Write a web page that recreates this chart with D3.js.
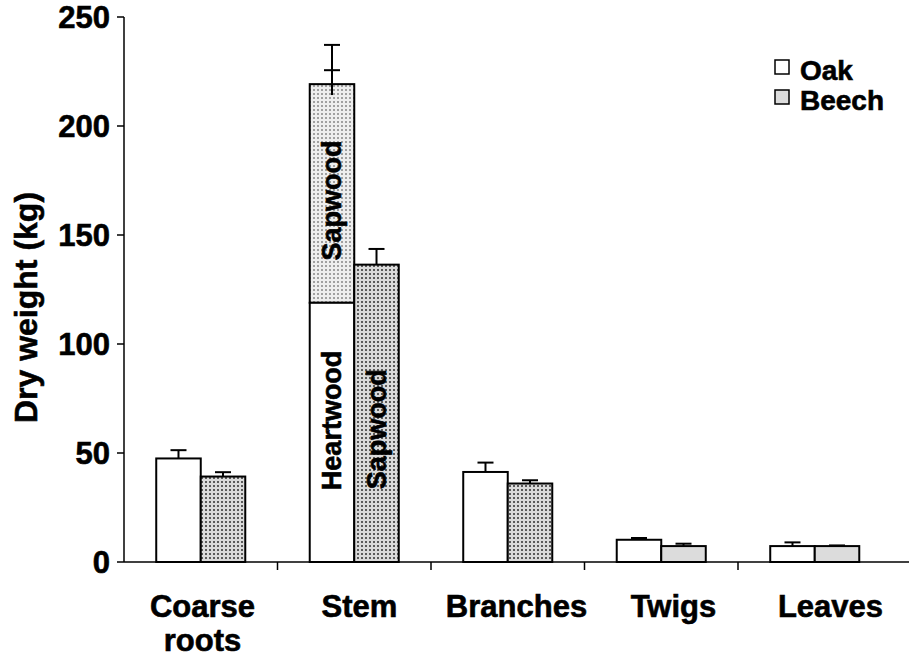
<!DOCTYPE html>
<html><head><meta charset="utf-8">
<script src="https://cdn.jsdelivr.net/npm/d3@7"></script>
<style>
body{margin:0;background:#fff;}
text{font-family:"Liberation Sans",Arial,sans-serif;font-weight:bold;fill:#000;stroke:#000;stroke-width:0.6px;}
</style></head>
<body><svg id="c" width="909" height="664"></svg>
<script>
const categories = ["Coarse roots","Stem","Branches","Twigs","Leaves"];
const oak = [47.5, 219.2, 41.3, 10.2, 7.3];
const oakErr = [3.8, 18.0, 4.3, 0.8, 1.7];
const beech = [39.2, 136.4, 36.0, 7.3, 7.3];
const beechErr = [2.0, 7.2, 1.5, 1.1, 0.3];
const oakStemHeartwood = 118.9;
const oakStemSapErr = 6.4;   // inner cap on stem error bar
const oakStemLowErr = 5.0;   // error line extends into bar
const yTicks = [0, 50, 100, 150, 200, 250];
const legendItems = ["Oak", "Beech"];

const svg = d3.select("#c");
const defs = svg.append("defs");
const p1 = defs.append("pattern").attr("id","beechPat").attr("width",4).attr("height",4).attr("patternUnits","userSpaceOnUse");
p1.append("rect").attr("width",4).attr("height",4).attr("fill","#dadada");
p1.append("rect").attr("x",1).attr("y",1).attr("width",2).attr("height",2).attr("fill","#5a5a5a");
const p2 = defs.append("pattern").attr("id","sapPat").attr("width",4).attr("height",4).attr("patternUnits","userSpaceOnUse");
p2.append("rect").attr("width",4).attr("height",4).attr("fill","#eeeeee");
p2.append("rect").attr("x",1).attr("y",1).attr("width",2).attr("height",2).attr("fill","#a0a0a0");

const y = d3.scaleLinear().domain([0,250]).range([562,17]);
const x = d3.scaleBand().domain(categories).range([124,891.5]).padding(0);
const xl = d3.scalePoint().domain(categories).range([124,909]).padding(0.5);
const bw = x.bandwidth()*0.29;

// bars
const g = svg.append("g");
categories.forEach((c,i)=>{
  const cx = x(c)+x.bandwidth()/2;
  if (c==="Stem"){
    g.append("rect").attr("x",cx-bw).attr("y",y(oak[i])).attr("width",bw).attr("height",y(oakStemHeartwood)-y(oak[i]))
      .attr("fill","url(#sapPat)").attr("stroke","#000").attr("stroke-width",2);
    g.append("rect").attr("x",cx-bw).attr("y",y(oakStemHeartwood)).attr("width",bw).attr("height",y(0)-y(oakStemHeartwood))
      .attr("fill","#fff").attr("stroke","#000").attr("stroke-width",2);
  } else {
    g.append("rect").attr("x",cx-bw).attr("y",y(oak[i])).attr("width",bw).attr("height",y(0)-y(oak[i]))
      .attr("fill","#fff").attr("stroke","#000").attr("stroke-width",2);
  }
  g.append("rect").attr("x",cx).attr("y",y(beech[i])).attr("width",bw).attr("height",y(0)-y(beech[i]))
    .attr("fill", beech[i] < 20 ? "#dcdcdc" : "url(#beechPat)").attr("stroke","#000").attr("stroke-width",2);
});

// error bars
function errBar(xc, top, low, caps){
  g.append("line").attr("x1",xc).attr("x2",xc).attr("y1",y(low)).attr("y2",y(top)).attr("stroke","#000").attr("stroke-width",2);
  caps.forEach(v=>g.append("line").attr("x1",xc-8).attr("x2",xc+8).attr("y1",y(v)).attr("y2",y(v)).attr("stroke","#000").attr("stroke-width",2));
}
categories.forEach((c,i)=>{
  const cx = x(c)+x.bandwidth()/2;
  if (c==="Stem"){
    errBar(cx-bw/2, oak[i]+oakErr[i], oak[i]-oakStemLowErr, [oak[i]+oakErr[i], oak[i]+oakStemSapErr]);
  } else {
    errBar(cx-bw/2, oak[i]+oakErr[i], oak[i], [oak[i]+oakErr[i]]);
  }
  errBar(cx+bw/2, beech[i]+beechErr[i], beech[i], [beech[i]+beechErr[i]]);
});

// bar labels
const sx = x("Stem")+x.bandwidth()/2;
function vlabel(xc, yc, t){
  svg.append("text").attr("transform",`translate(${xc},${yc}) rotate(-90)`).attr("text-anchor","middle")
    .attr("dy","0.35em").style("font-size","27px").text(t);
}
vlabel(sx-bw/2, y((oak[1]+oakStemHeartwood)/2)+7, "Sapwood");
vlabel(sx-bw/2, y(oakStemHeartwood/2)-12, "Heartwood");
vlabel(sx+bw/2, y(beech[1]/2)+16, "Sapwood");

// y axis
svg.append("line").attr("x1",124).attr("x2",124).attr("y1",y(250)).attr("y2",y(0)).attr("stroke","#000").attr("stroke-width",1.5);
yTicks.forEach(t=>{
  svg.append("line").attr("x1",117).attr("x2",124).attr("y1",y(t)).attr("y2",y(t)).attr("stroke","#000").attr("stroke-width",1.5);
  svg.append("text").attr("x",110).attr("y",y(t)).attr("dy","0.36em").attr("text-anchor","end").style("font-size","31px").text(t);
});
svg.append("text").attr("transform",`translate(37,${(y(0)+y(250))/2+18}) rotate(-90)`).attr("text-anchor","middle")
  .style("font-size","32px").text("Dry weight (kg)");

// x axis
svg.append("line").attr("x1",124).attr("x2",909).attr("y1",y(0)).attr("y2",y(0)).attr("stroke","#000").attr("stroke-width",1.5);
categories.slice(1).forEach(c=>{
  svg.append("line").attr("x1",x(c)).attr("x2",x(c)).attr("y1",y(0)).attr("y2",y(0)+8).attr("stroke","#000").attr("stroke-width",1.5);
});
categories.forEach(c=>{
  const t = svg.append("text").attr("x",xl(c)).attr("y",617).attr("text-anchor","middle").style("font-size","31px");
  const parts = c==="Coarse roots" ? ["Coarse","roots"] : [c];
  parts.forEach((p,j)=>t.append("tspan").attr("x",xl(c)).attr("dy",j?34:0).text(p));
});

// legend
legendItems.forEach((l,i)=>{
  svg.append("rect").attr("x",775).attr("y",60+i*30).attr("width",14).attr("height",14)
    .attr("fill", i? "#dcdcdc":"#fff").attr("stroke","#000").attr("stroke-width",1.5);
  svg.append("text").attr("x",800).attr("y",80+i*30).style("font-size","28px").text(l);
});
</script></body></html>
